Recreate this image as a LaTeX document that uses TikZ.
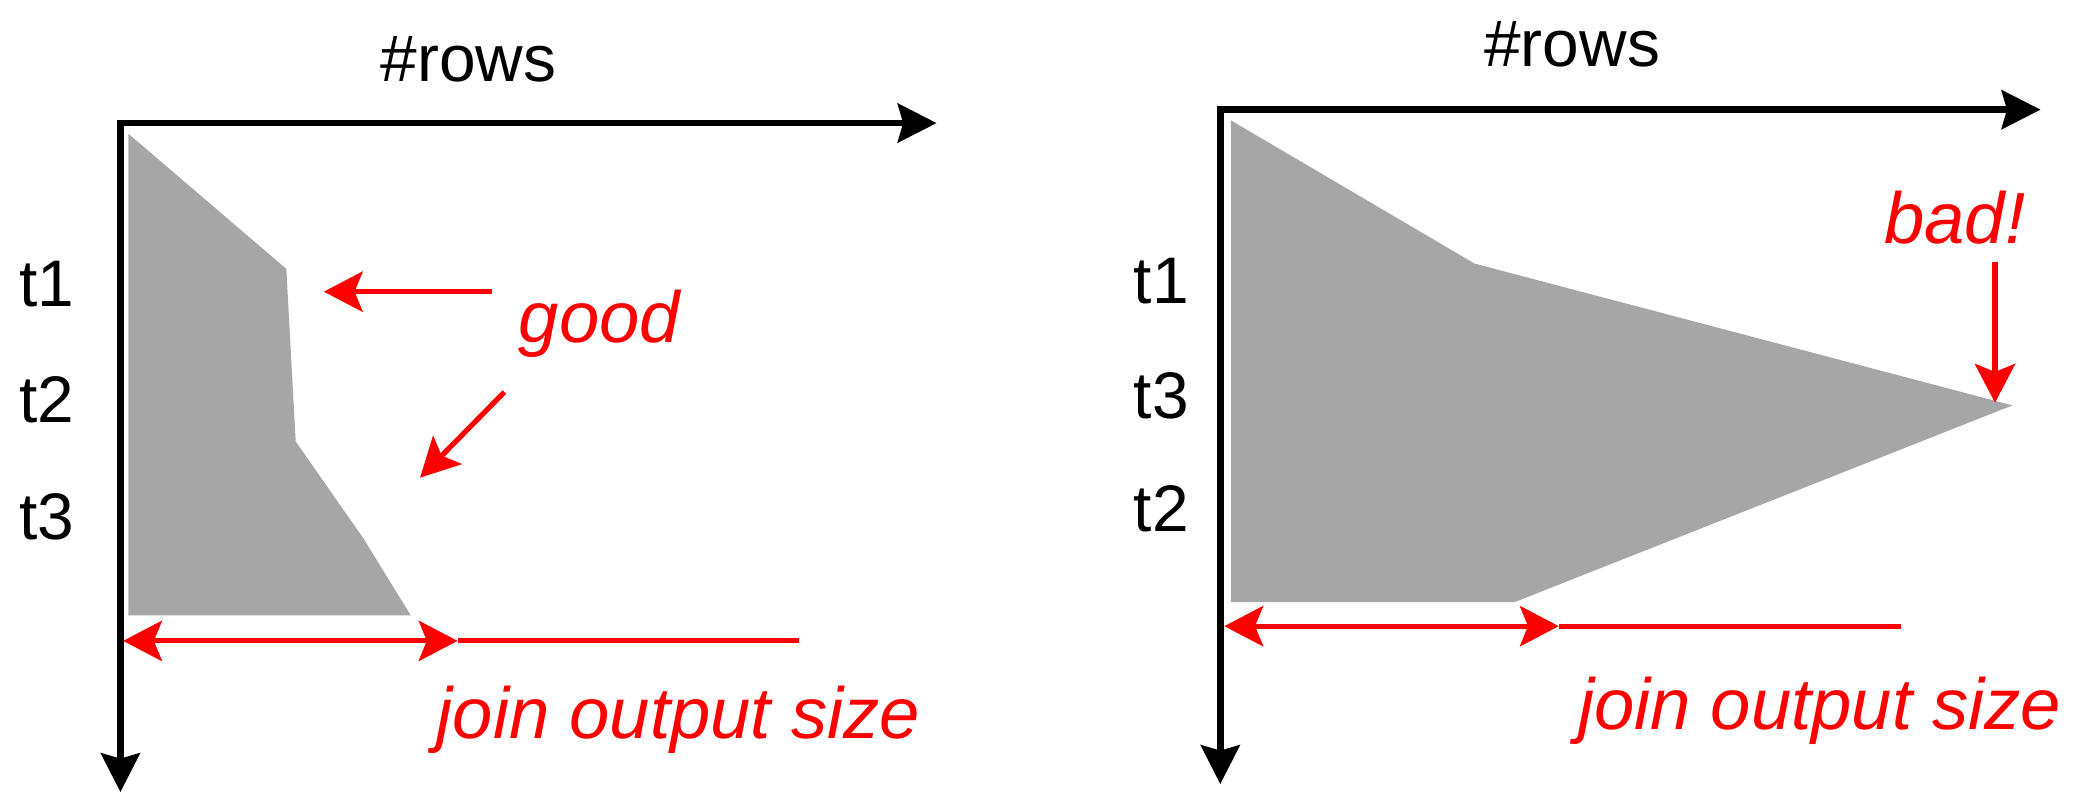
\documentclass[tikz,border=0pt]{standalone}
\usepackage{fontspec}
\setmainfont{Liberation Sans}
\usetikzlibrary{arrows.meta,positioning}
\definecolor{area}{RGB}{166,166,166}
\definecolor{note}{RGB}{255,0,0}

\begin{document}
\begin{tikzpicture}[x=1cm,y=1cm,
    axes/.style={line width=1.4pt,{Stealth[length=2.9mm,width=2.9mm,inset=0.4mm]}-{Stealth[length=2.9mm,width=2.9mm,inset=0.4mm]}},
    remark/.style={note,line width=1.1pt,-{Stealth[length=2.9mm,width=3.0mm,inset=0.6mm]}},
    span/.style={note,line width=1.1pt,{Stealth[length=2.9mm,width=3.0mm,inset=0.6mm]}-{Stealth[length=2.9mm,width=3.0mm,inset=0.6mm]}},
    tlabel/.style={font=\fontsize{14}{16}\selectfont},
    comment/.style={note,font=\fontsize{15.4}{18}\selectfont\itshape}]
    \useasboundingbox (0,0) rectangle (15.68,5.96);

    % left: good join order
    \coordinate (o1) at (0.90,5.04);
    \coordinate (x1) at (7.00,5.04);
    \coordinate (y1) at (0.90,0.04);
    \fill[area] (0.96,4.96)--(2.14,3.95)--(2.21,2.66)--(2.72,1.93)--(3.07,1.36)--(0.96,1.36)--cycle;
    \draw[axes] (x1)--(o1)--(y1);
    \node[tlabel] (rows1) at (3.50,5.52){\#rows};
    \node[tlabel] (t1l) at (0.35,3.84){t1};
    \node[tlabel] (t2l) at (0.35,2.97){t2};
    \node[tlabel] (t3l) at (0.35,2.10){t3};
    \node[comment] (good) at (4.48,3.54){good};
    \coordinate (g1s) at (3.68,3.78);
    \coordinate (g1e) at (2.42,3.78);
    \coordinate (g2s) at (3.77,3.03);
    \coordinate (g2e) at (3.14,2.39);
    \draw[remark] (g1s)--(g1e);
    \draw[remark] (g2s)--(g2e);
    \coordinate (s1a) at (0.92,1.17);
    \coordinate (s1b) at (3.42,1.17);
    \coordinate (s1c) at (5.97,1.17);
    \draw[span] (s1a)--(s1b);
    \draw[note,line width=1.1pt] (s1b)--(s1c);
    \node[comment] (size1) at (5.07,0.58){join output size};

    % right: bad join order
    \coordinate (o2) at (9.12,5.14);
    \coordinate (x2) at (15.25,5.14);
    \coordinate (y2) at (9.12,0.10);
    \fill[area] (9.20,5.06)--(11.02,3.99)--(15.04,2.93)--(11.32,1.46)--(9.20,1.46)--cycle;
    \draw[axes] (x2)--(o2)--(y2);
    \node[tlabel] (rows2) at (11.75,5.63){\#rows};
    \node[tlabel] (t1r) at (8.68,3.86){t1};
    \node[tlabel] (t3r) at (8.68,3.00){t3};
    \node[tlabel] (t2r) at (8.68,2.16){t2};
    \node[comment] (bad) at (14.61,4.33){bad!};
    \coordinate (b1s) at (14.91,4.00);
    \coordinate (b1e) at (14.91,2.95);
    \draw[remark] (b1s)--(b1e);
    \coordinate (s2a) at (9.15,1.28);
    \coordinate (s2b) at (11.65,1.28);
    \coordinate (s2c) at (14.21,1.28);
    \draw[span] (s2a)--(s2b);
    \draw[note,line width=1.1pt] (s2b)--(s2c);
    \node[comment] (size2) at (13.60,0.65){join output size};
\end{tikzpicture}
\end{document}
